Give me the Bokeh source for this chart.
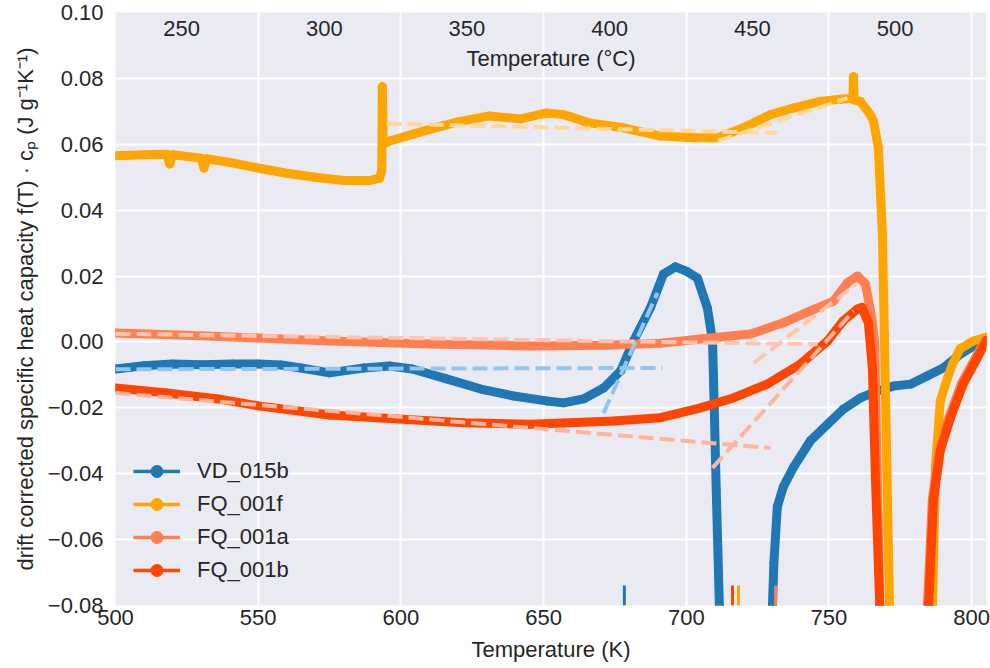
import math
from bokeh.plotting import figure
from bokeh.models import (Range1d, CustomJSTickFormatter, FixedTicker, Legend,
                          LegendItem, ColumnDataSource)
from bokeh.core.properties import value
from bokeh.embed import file_html
from bokeh.resources import INLINE

NAN = float("nan")

# ---------------- data ----------------
x_ticks = [500, 550, 600, 650, 700, 750, 800]
y_ticks = [-0.08, -0.06, -0.04, -0.02, 0.0, 0.02, 0.04, 0.06, 0.08, 0.10]
celsius_ticks = [250, 300, 350, 400, 450, 500]
X_MIN, X_MAX = 500.0, 805.2
Y_MIN, Y_MAX = -0.08, 0.10

series_names = ["VD_015b", "FQ_001f", "FQ_001a", "FQ_001b"]

vd015b_T = [500, 510, 520, 530, 541, 550, 558, 565, 575, 587, 596, 604, 616, 628,
            639.5, 651, 657, 664, 671, 677, 681.5, 687.4, 692, 696.2, 700, 703.9,
            707.4, 709.2, 709.8, 710.5, 711.6, NAN,
            730.2, 730.7, 731.9, 734.0, 737.6, 743.5, 749.5, 755.0, 761.0, 767.0,
            772.6, 778.6, 784.5, 790.0, 796.0, 802.0, 805.2]
vd015b_cp = [-0.0082, -0.0072, -0.0067, -0.0069, -0.0067, -0.0067, -0.0070, -0.0079,
             -0.0094, -0.0079, -0.0073, -0.0082, -0.0112, -0.0143, -0.0164, -0.0179,
             -0.0185, -0.0173, -0.0140, -0.0088, 0.0003, 0.0103, 0.0206, 0.0228,
             0.0215, 0.0194, 0.0103, 0.0003, -0.020, -0.045, -0.080, NAN,
             -0.080, -0.067, -0.050, -0.044, -0.038, -0.030, -0.025, -0.0204, -0.017,
             -0.0149, -0.0134, -0.0128, -0.0103, -0.0079, -0.0037, -0.0006, 0.0005]

fq001f_T = [500, 510, 518, 519, 520, 530, 531, 532, 540, 550, 560, 570, 580, 589,
            592.5, 593.3, 593.5, 593.8, 596, 604, 612, 620, 631, 642, 651, 657, 666,
            678, 691, 702.5, 711, 720, 729.5, 737.5, 747, 754, 758.4, 758.6, 758.8,
            761, 764.5, 765.6, 767.3, 768.7, 769.4, 771.2, NAN,
            786.3, 787.3, 789.0, 791.5, 793.3, 796.0, 800.6, 805.2]
fq001f_cp = [0.0565, 0.0568, 0.0570, 0.0540, 0.0568, 0.0558, 0.0528, 0.0556, 0.0545,
             0.0528, 0.0512, 0.0500, 0.0490, 0.0490, 0.0497, 0.0520, 0.0775, 0.0600,
             0.0610, 0.0630, 0.0650, 0.0668, 0.0686, 0.0677, 0.0695, 0.0690, 0.0665,
             0.0650, 0.0625, 0.0620, 0.0620, 0.0650, 0.0690, 0.0710, 0.0730, 0.0737,
             0.0740, 0.0805, 0.0735, 0.0730, 0.0690, 0.0670, 0.0590, 0.0330, 0.0024,
             -0.080, NAN,
             -0.080, -0.038, -0.018, -0.011, -0.0067, -0.0020, 0.0003, 0.0015]

fq001a_T = [500, 525, 550, 575, 610, 645, 672, 691, 705, 722.5, 734, 743.5, 751.6,
            756.5, 760, 762.8, 765, 766, 767.8, NAN,
            784.5, 786.2, 788.5, 792.0, 796.5, 801.5, 804.8]
fq001a_cp = [0.0027, 0.0020, 0.0012, 0.0003, -0.0006, -0.0012, -0.0010, -0.0004,
             0.0009, 0.0024, 0.0058, 0.0094, 0.0124, 0.0180, 0.0200, 0.0176, 0.0073,
             0.0, -0.080, NAN,
             -0.080, -0.048, -0.033, -0.023, -0.0125, -0.0045, 0.0005]

fq001b_T = [500, 518, 536, 550, 575, 599, 622, 645, 657, 674.5, 691, 705, 716.5,
            728.4, 740, 749.5, 755, 760, 761.5, 763.8, 765.2, 766.3, 767.8, NAN,
            784.9, 786.6, 789.0, 792.6, 797.0, 802.0, 805.2]
fq001b_cp = [-0.0140, -0.0155, -0.0173, -0.0194, -0.0222, -0.0234, -0.0245, -0.0250,
             -0.0246, -0.0240, -0.0230, -0.0200, -0.0170, -0.0128, -0.0067, 0.0003,
             0.0064, 0.0100, 0.0105, 0.0058, -0.0079, -0.042, -0.080, NAN,
             -0.080, -0.048, -0.033, -0.023, -0.0128, -0.0048, 0.0005]

# linear fits (start / end points)
vd015b_fit1_T, vd015b_fit1_cp = [500, 691.7], [-0.0083, -0.0079]
vd015b_fit2_T, vd015b_fit2_cp = [671.0, 689.9], [-0.0216, 0.0149]
fq001f_fit1_T, fq001f_fit1_cp = [595.0, 732.0], [0.0663, 0.0634]
fq001f_fit2_T, fq001f_fit2_cp = [711.0, 756.5], [0.0610, 0.0740]
fq001a_fit1_T, fq001a_fit1_cp = [500.0, 746.0], [0.0025, -0.0007]
fq001a_fit2_T, fq001a_fit2_cp = [723.6, 759.5], [-0.0064, 0.0175]
fq001b_fit1_T, fq001b_fit1_cp = [500.0, 729.5], [-0.0155, -0.0322]
fq001b_fit2_T, fq001b_fit2_cp = [709.2, 758.6], [-0.0382, 0.0094]

# onset temperatures (short marks at the bottom)
onset_T = [678.3, 716.2, 718.3, 731.3]
onset_series = ["VD_015b", "FQ_001b", "FQ_001f", "FQ_001a"]

# ---------------- styling ----------------
FONT = "Liberation Sans"
TXT = "#262626"
colors = {"VD_015b": "#1f77b4", "FQ_001f": "#ffa500",
          "FQ_001a": "#ff7f50", "FQ_001b": "#ff4500"}
fit_colors = {"VD_015b": "#93c6ee", "FQ_001f": "#ffd89c",
              "FQ_001a": "#ffc3ae", "FQ_001b": "#ffb59c"}

p = figure(width=990, height=668, output_backend="svg", toolbar_location=None,
           x_range=Range1d(X_MIN, X_MAX), y_range=Range1d(Y_MIN, Y_MAX),
           min_border_left=115, min_border_right=4, min_border_top=12,
           min_border_bottom=63)
p.background_fill_color = "#EAEAF2"
p.border_fill_color = "white"
p.outline_line_color = None

p.xaxis.ticker = FixedTicker(ticks=x_ticks)
p.yaxis.ticker = FixedTicker(ticks=y_ticks)
p.yaxis.formatter = CustomJSTickFormatter(
    code="return (tick < -1e-9 ? '\u2212' : '') + Math.abs(tick).toFixed(2);")
for ax in (p.xaxis, p.yaxis):
    ax.axis_line_color = None
    ax.major_tick_line_color = None
    ax.minor_tick_line_color = None
    ax.major_tick_out = 0
    ax.major_tick_in = 0
    ax.minor_tick_out = 0
    ax.major_label_text_font = FONT
    ax.major_label_text_font_size = "22px"
    ax.major_label_text_color = TXT
    ax.axis_label_text_font = FONT
    ax.axis_label_text_font_size = "22px"
    ax.axis_label_text_font_style = "normal"
    ax.axis_label_text_color = TXT
p.xaxis.axis_label = "Temperature (K)"
p.xaxis.major_label_standoff = 4
p.xaxis.axis_label_standoff = 9
p.yaxis.axis_label = "drift corrected specific heat capacity f(T) \u00b7 c\u209a (J g\u207b\u00b9K\u207b\u00b9)"
p.yaxis.major_label_standoff = 12
p.yaxis.axis_label_standoff = 7
p.grid.grid_line_color = "white"
p.grid.grid_line_width = 2

main = {"VD_015b": (vd015b_T, vd015b_cp), "FQ_001f": (fq001f_T, fq001f_cp),
        "FQ_001a": (fq001a_T, fq001a_cp), "FQ_001b": (fq001b_T, fq001b_cp)}
fits = {"VD_015b": [(vd015b_fit1_T, vd015b_fit1_cp), (vd015b_fit2_T, vd015b_fit2_cp)],
        "FQ_001f": [(fq001f_fit1_T, fq001f_fit1_cp), (fq001f_fit2_T, fq001f_fit2_cp)],
        "FQ_001a": [(fq001a_fit1_T, fq001a_fit1_cp), (fq001a_fit2_T, fq001a_fit2_cp)],
        "FQ_001b": [(fq001b_fit1_T, fq001b_fit1_cp), (fq001b_fit2_T, fq001b_fit2_cp)]}

for name in series_names:
    T, cp = main[name]
    p.line(T, cp, line_color=colors[name], line_width=9, line_join="round",
           line_cap="round")
    p.scatter(T, cp, marker="circle", size=8, fill_color=colors[name],
              line_color=colors[name])

for name in series_names:
    for fT, fcp in fits[name]:
        p.line(fT, fcp, line_color=fit_colors[name], line_width=4, line_dash="15 6")

# onset marks at the bottom
mark_h = (Y_MAX - Y_MIN) * 20 / 593
p.segment(x0=onset_T, y0=[Y_MIN] * len(onset_T), x1=onset_T,
          y1=[Y_MIN + mark_h] * len(onset_T),
          line_color=[colors[s] for s in onset_series], line_width=3)

# secondary (Celsius) axis labels drawn inside the frame
px_to_y = (Y_MAX - Y_MIN) / 593
p.text(x=[c + 273.15 for c in celsius_ticks],
       y=[Y_MAX - 16 * px_to_y] * len(celsius_ticks),
       text=[str(c) for c in celsius_ticks],
       text_font=value(FONT), text_font_size="22px", text_color=TXT,
       text_align="center", text_baseline="middle")
p.text(x=[(X_MIN + X_MAX) / 2], y=[Y_MAX - 46 * px_to_y], text=["Temperature (\u00b0C)"],
       text_font=value(FONT), text_font_size="22px", text_color=TXT,
       text_align="center", text_baseline="middle")

# legend (line + marker glyphs; renderers hold no visible point)
items = []
for name in series_names:
    src = ColumnDataSource(data=dict(x=[NAN], y=[NAN]))
    lr = p.line("x", "y", source=src, line_color=colors[name], line_width=3.5)
    sr = p.scatter("x", "y", source=src, marker="circle", size=8,
                   fill_color=colors[name], line_color=colors[name])
    items.append(LegendItem(label=name, renderers=[lr, sr]))
legend = Legend(items=items, location=(18, 20), orientation="vertical",
                label_text_font=FONT, label_text_font_size="22px",
                label_text_color=TXT, glyph_width=47, glyph_height=30,
                label_height=30, label_standoff=17, spacing=3, padding=0,
                margin=0, border_line_color=None, background_fill_alpha=0)
p.add_layout(legend)

open("out.html", "w").write(file_html(p, INLINE))
